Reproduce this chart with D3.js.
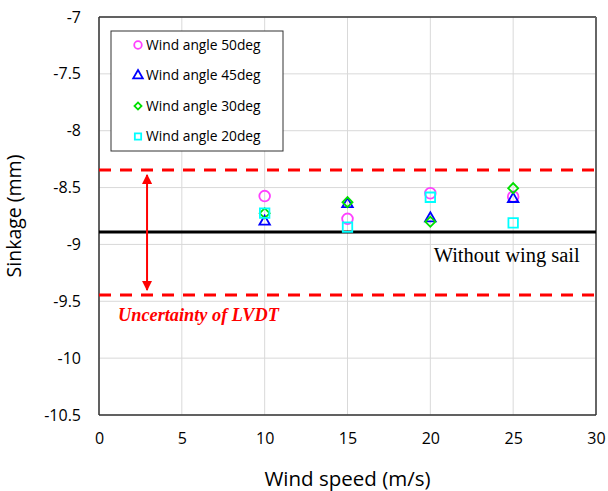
<!DOCTYPE html>
<html>
<head>
<meta charset="utf-8">
<script src="https://cdn.jsdelivr.net/npm/d3@7"></script>
<style>
  body { margin: 0; background: #fff; }
</style>
</head>
<body>
<div id="chart"></div>
<script>
(function () {

  // wind speeds (m/s)
  const speeds = [10, 15, 20, 25]

  // sinkage (mm) for each wind angle
  const angle50 = [-8.575, -8.775, -8.55, -8.58]
  const angle45 = [-8.80, -8.645, -8.77, -8.60]
  const angle30 = [-8.725, -8.628, -8.80, -8.505]
  const angle20 = [-8.725, -8.848, -8.585, -8.81]

  const baseline = -8.89
  const uncertaintyUpper = -8.345
  const uncertaintyLower = -9.445

  const xTicks = [0, 5, 10, 15, 20, 25, 30]
  const yTicks = [-7, -7.5, -8, -8.5, -9, -9.5, -10, -10.5]
  const yTickLabels = ['-7', '-7.5', '-8', '-8.5', '-9', '-9.5', '-10', '-10.5']

  const seriesNames = ['Wind angle 50deg', 'Wind angle 45deg', 'Wind angle 30deg', 'Wind angle 20deg']

  const margin = { top: 17, right: 12, bottom: 76, left: 99 }
  const width = 608 - margin.left - margin.right
  const height = 491 - margin.top - margin.bottom

  const svg = d3.select("#chart").append("svg")
      .attr("width", width + margin.left + margin.right)
      .attr("height", height + margin.top + margin.bottom)
      .append("g")
      .attr("transform", "translate(" + margin.left + "," + margin.top + ")")

  const xPositionScale = d3.scaleLinear()
    .domain([0, 30])
    .range([0, width])

  const yPositionScale = d3.scaleLinear()
    .domain([-10.5, -7])
    .range([height, 0])

  // grid
  svg.selectAll('.vgrid')
    .data(xTicks)
    .join('line')
    .attr('class', 'vgrid')
    .attr('x1', d => xPositionScale(d))
    .attr('x2', d => xPositionScale(d))
    .attr('y1', 0)
    .attr('y2', height)
    .attr('stroke', '#d9d9d9')
    .attr('stroke-width', 1)

  svg.selectAll('.hgrid')
    .data(yTicks)
    .join('line')
    .attr('class', 'hgrid')
    .attr('x1', 0)
    .attr('x2', width)
    .attr('y1', d => yPositionScale(d))
    .attr('y2', d => yPositionScale(d))
    .attr('stroke', '#d9d9d9')
    .attr('stroke-width', 1)

  // axes
  const yAxis = d3.axisLeft(yPositionScale).tickValues(yTicks).tickSize(0).tickPadding(18)
    .tickFormat((d, i) => yTickLabels[i])
  svg.append("g")
    .attr("class", "axis y-axis")
    .call(yAxis)
    .call(g => g.select('.domain').remove())
    .selectAll('text')
    .attr('font-size', 16)
    .attr('font-family', 'Open Sans, Noto Sans, sans-serif')
    .attr('fill', '#000')

  const xAxis = d3.axisBottom(xPositionScale).tickValues(xTicks).tickSize(0).tickPadding(18)
  svg.append("g")
    .attr("class", "axis x-axis")
    .attr("transform", "translate(0," + height + ")")
    .call(xAxis)
    .call(g => g.select('.domain').remove())
    .selectAll('text')
    .attr('font-size', 16)
    .attr('font-family', 'Open Sans, Noto Sans, sans-serif')
    .attr('fill', '#000')

  // frame
  svg.append('line')
    .attr('x1', 0).attr('x2', width).attr('y1', 0).attr('y2', 0)
    .attr('stroke', '#333').attr('stroke-width', 1.5)
  svg.append('line')
    .attr('x1', width).attr('x2', width).attr('y1', 0).attr('y2', height)
    .attr('stroke', '#666').attr('stroke-width', 2)
  svg.append('line')
    .attr('x1', 0).attr('x2', 0).attr('y1', 0).attr('y2', height)
    .attr('stroke', '#333').attr('stroke-width', 1.5)
  svg.append('line')
    .attr('x1', 0).attr('x2', width).attr('y1', height).attr('y2', height)
    .attr('stroke', '#333').attr('stroke-width', 1.5)

  // axis titles
  svg.append('text')
    .attr('x', width / 2)
    .attr('y', height + 71)
    .attr('text-anchor', 'middle')
    .attr('font-size', 20.5)
    .attr('font-family', 'Open Sans, Noto Sans, sans-serif')
    .text('Wind speed (m/s)')

  svg.append('text')
    .attr('transform', 'translate(' + (-78) + ',' + (height / 2) + ') rotate(-90)')
    .attr('text-anchor', 'middle')
    .attr('font-size', 19.5)
    .attr('font-family', 'Open Sans, Noto Sans, sans-serif')
    .text('Sinkage (mm)')

  // baseline and uncertainty
  svg.append('line')
    .attr('x1', 0).attr('x2', width)
    .attr('y1', yPositionScale(baseline)).attr('y2', yPositionScale(baseline))
    .attr('stroke', '#000').attr('stroke-width', 3)

  svg.selectAll('.unc')
    .data([uncertaintyUpper, uncertaintyLower])
    .join('line')
    .attr('class', 'unc')
    .attr('x1', 0).attr('x2', width)
    .attr('y1', d => yPositionScale(d)).attr('y2', d => yPositionScale(d))
    .attr('stroke', '#ff0000').attr('stroke-width', 3)
    .attr('stroke-dasharray', '12,9')

  svg.append('text')
    .attr('x', xPositionScale(20.2))
    .attr('y', yPositionScale(baseline) + 30)
    .attr('font-size', 20.5)
    .attr('font-family', 'Liberation Serif, Times New Roman, serif')
    .text('Without wing sail')

  svg.append('text')
    .attr('x', xPositionScale(1.15))
    .attr('y', yPositionScale(uncertaintyLower) + 26)
    .attr('font-size', 18.3)
    .attr('font-weight', 'bold')
    .attr('font-style', 'italic')
    .attr('fill', '#ff0000')
    .attr('font-family', 'Liberation Serif, Times New Roman, serif')
    .text('Uncertainty of LVDT')

  // double arrow
  const defs = svg.append('defs')
  defs.append('marker')
    .attr('id', 'arrow')
    .attr('viewBox', '0 0 10 10')
    .attr('refX', 9).attr('refY', 5)
    .attr('markerWidth', 5).attr('markerHeight', 5)
    .attr('orient', 'auto-start-reverse')
    .append('path')
    .attr('d', 'M0,0 L10,5 L0,10 z')
    .attr('fill', '#ff0000')

  svg.append('line')
    .attr('x1', xPositionScale(2.9)).attr('x2', xPositionScale(2.9))
    .attr('y1', yPositionScale(uncertaintyUpper) + 5)
    .attr('y2', yPositionScale(uncertaintyLower) - 5)
    .attr('stroke', '#ff0000').attr('stroke-width', 2)
    .attr('marker-start', 'url(#arrow)')
    .attr('marker-end', 'url(#arrow)')

  // data series
  const series = [
    { name: seriesNames[0], values: angle50, color: '#ff40ff', symbol: d3.symbolCircle, size: 90, rotate: 0 },
    { name: seriesNames[1], values: angle45, color: '#0000ff', symbol: d3.symbolTriangle, size: 48, rotate: 0 },
    { name: seriesNames[2], values: angle30, color: '#00e000', symbol: d3.symbolSquare, size: 50, rotate: 45 },
    { name: seriesNames[3], values: angle20, color: '#00ffff', symbol: d3.symbolSquare, size: 90, rotate: 0 }
  ]

  series.forEach((s, k) => {
    const sym = d3.symbol().type(s.symbol).size(s.size)
    svg.selectAll('.pt' + k)
      .data(speeds.map((sp, i) => ({ x: sp, y: s.values[i] })))
      .join('path')
      .attr('class', 'pt' + k)
      .attr('d', sym)
      .attr('transform', d => 'translate(' + xPositionScale(d.x) + ',' + yPositionScale(d.y) + ') rotate(' + s.rotate + ')')
      .attr('fill', 'none')
      .attr('stroke', s.color)
      .attr('stroke-width', 1.8)
  })

  // legend
  const legend = svg.append('g')
    .attr('transform', 'translate(12,14)')

  legend.append('rect')
    .attr('width', 172)
    .attr('height', 120)
    .attr('fill', '#fff')
    .attr('stroke', '#333')
    .attr('stroke-width', 1)

  const legendItems = legend.selectAll('.item')
    .data(series)
    .join('g')
    .attr('class', 'item')
    .attr('transform', (d, i) => 'translate(0,' + (14 + i * 30.5) + ')')

  legendItems.append('path')
    .attr('d', d => d3.symbol().type(d.symbol).size(d.symbol === d3.symbolCircle ? 45 : (d.rotate ? 25 : 40))())
    .attr('transform', d => 'translate(27,0) rotate(' + d.rotate + ')')
    .attr('fill', 'none')
    .attr('stroke', d => d.color)
    .attr('stroke-width', 1.8)

  legendItems.append('text')
    .attr('x', 35)
    .attr('dy', '0.35em')
    .attr('font-size', 13.8)
    .attr('font-family', 'Open Sans, Noto Sans, sans-serif')
    .text(d => d.name)

})();
</script>
</body>
</html>
